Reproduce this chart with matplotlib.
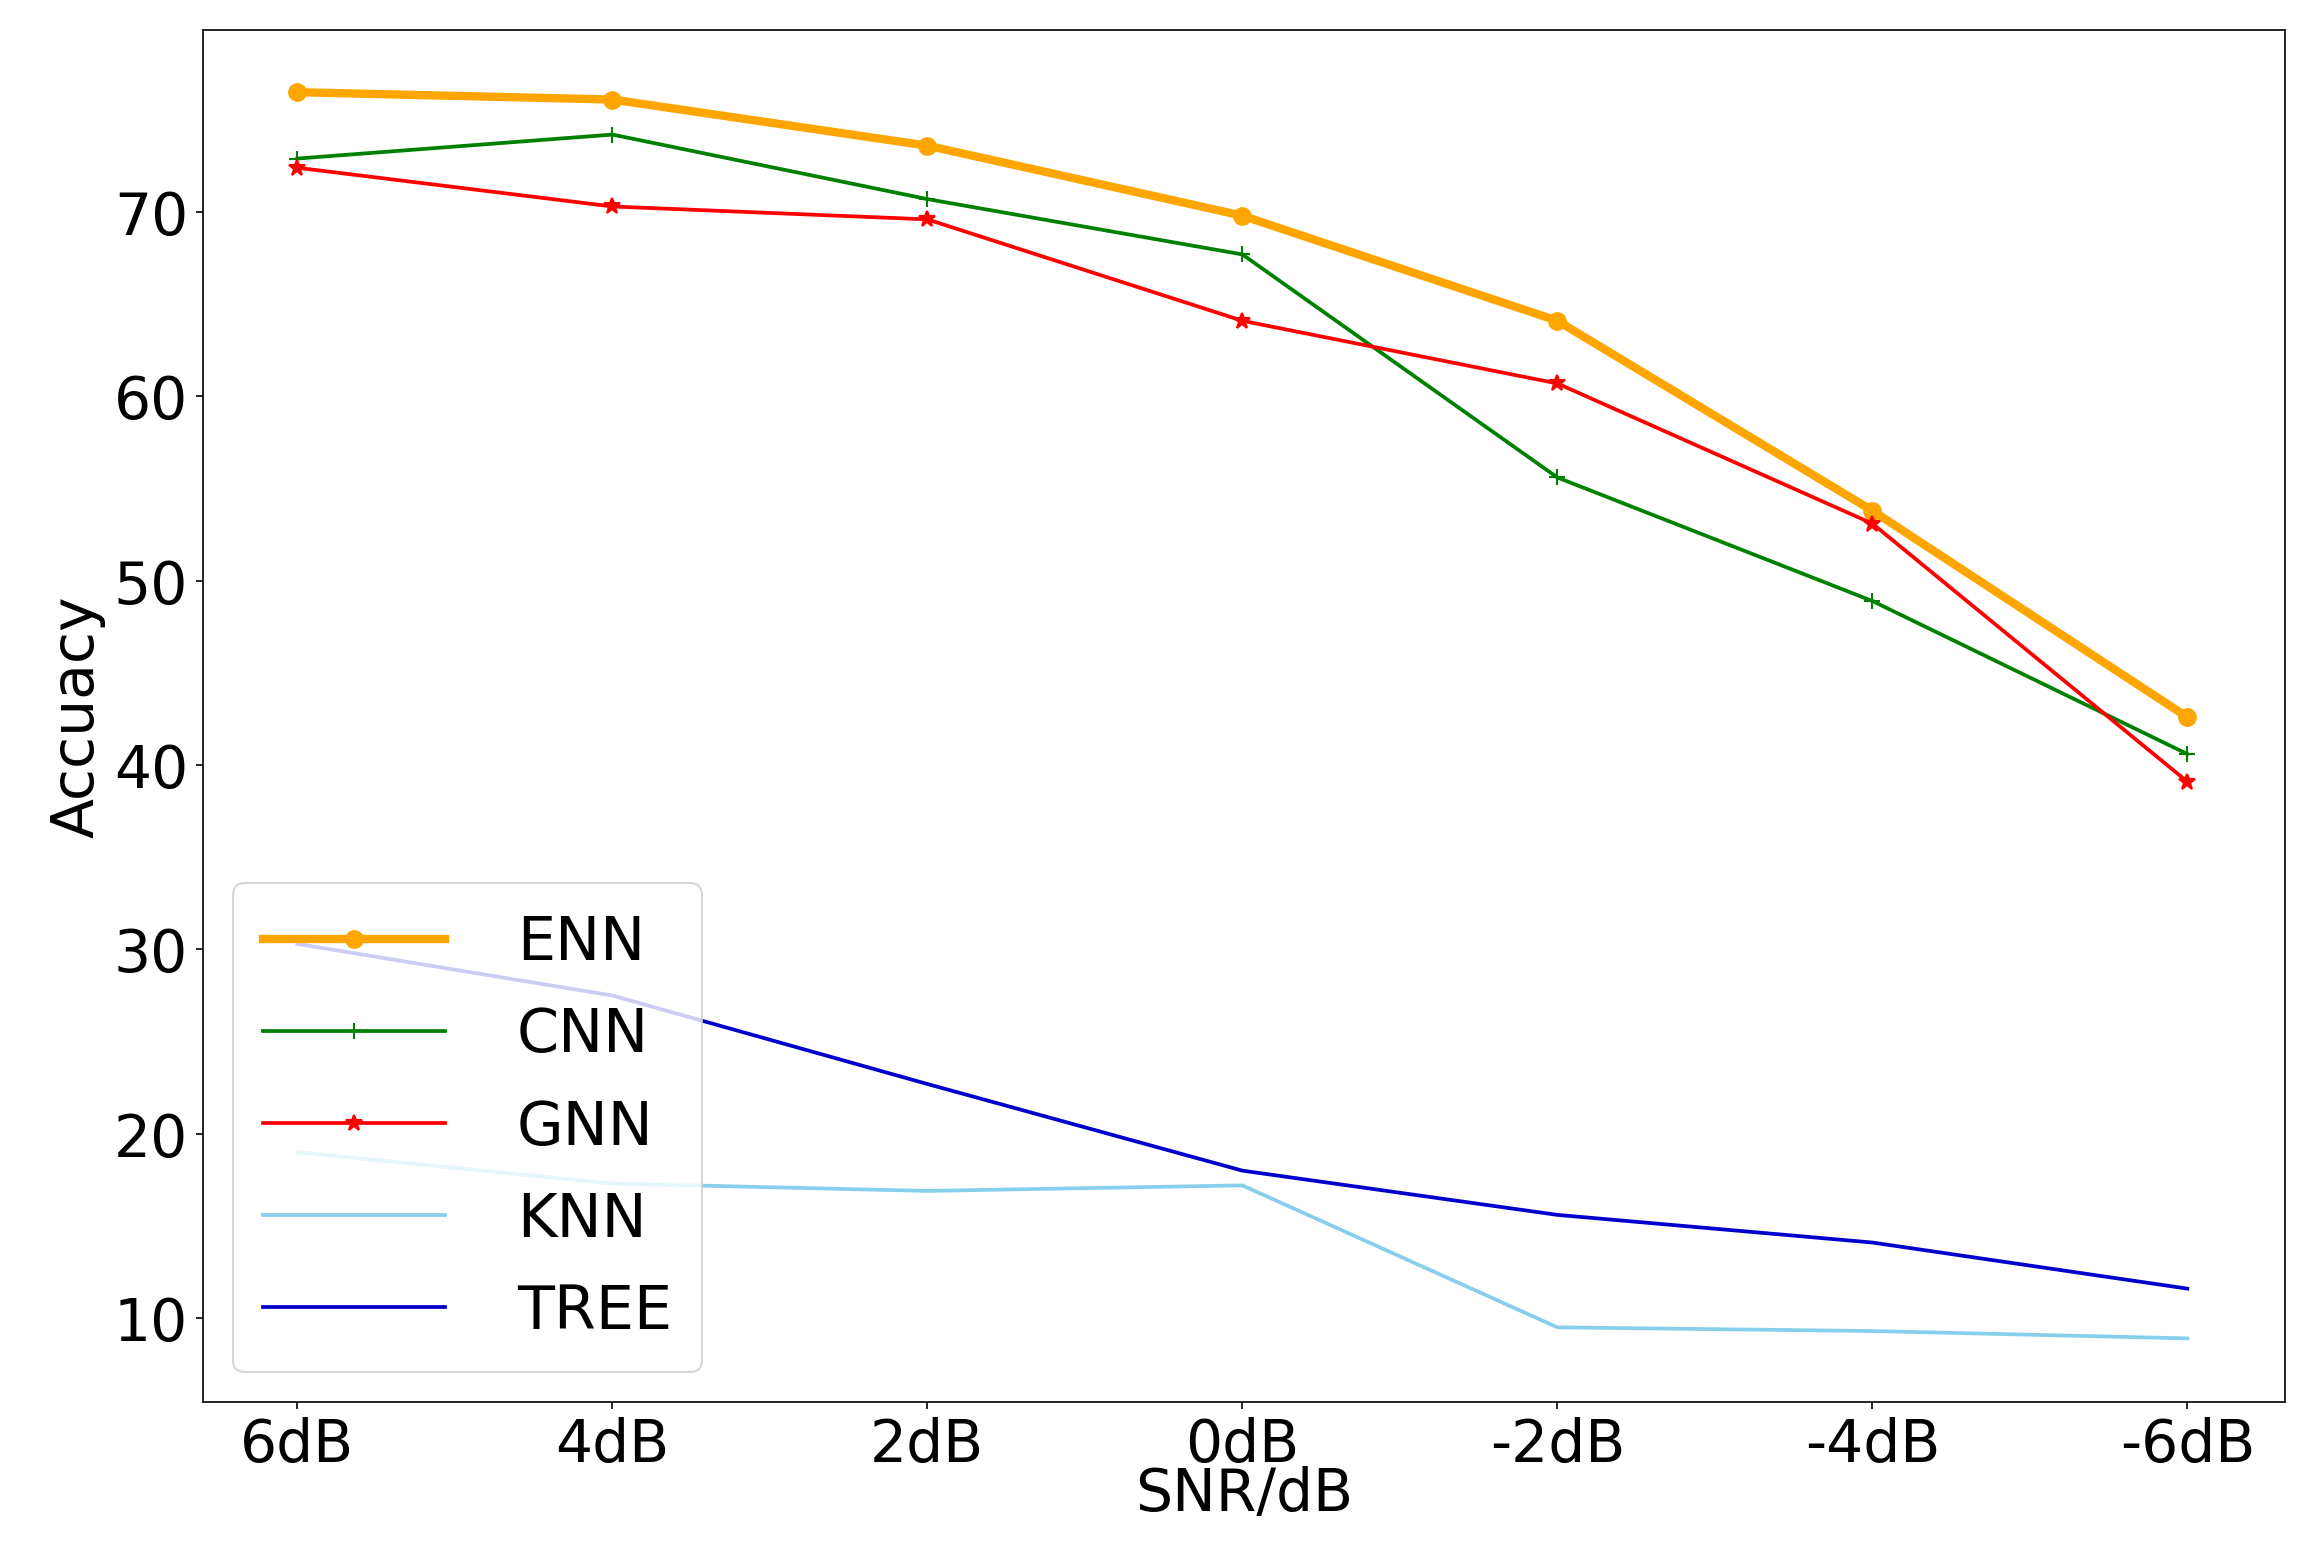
import numpy as np
import matplotlib.pyplot as plt

snr = ['6dB', '4dB', '2dB', '0dB', '-2dB', '-4dB', '-6dB']
enn = [76.5, 76.1, 73.6, 69.8, 64.1, 53.8, 42.6]
cnn = [72.9, 74.2, 70.7, 67.7, 55.6, 48.9, 40.6]
gnn = [72.4, 70.3, 69.6, 64.1, 60.7, 53.1, 39.1]
knn = [19.0, 17.3, 16.9, 17.2, 9.5, 9.3, 8.9]
tree = [30.3, 27.5, 22.7, 18.0, 15.6, 14.1, 11.6]

x = np.arange(len(snr))
fig = plt.figure(figsize=(15.48, 10.45), dpi=150)
ax = fig.add_axes([137/1568, 1-935/1045, (1543-137)/1568, (935-20)/1045])
ax.plot(x, enn, color='orange', lw=4, marker='o', ms=8, label='ENN')
ax.plot(x, cnn, color='green', lw=1.8, marker='+', ms=8, label='CNN')
ax.plot(x, gnn, color='red', lw=1.8, marker='*', ms=8, label='GNN')
ax.plot(x, knn, color='skyblue', lw=1.8, label='KNN')
ax.plot(x, tree, color='mediumblue', lw=1.8, label='TREE')
ax.set_xticks(x)
ax.set_xticklabels(snr)
ax.set_xlim(-0.3, 6.31)
ax.set_ylim(5.45, 79.9)
ax.set_yticks([10, 20, 30, 40, 50, 60, 70])
ax.tick_params(labelsize=28)
ax.set_xlabel('SNR/dB', fontsize=28, labelpad=-4)
ax.set_ylabel('Accuacy', fontsize=28, labelpad=4)
ax.legend(loc='lower left', fontsize=29, handlelength=3, borderpad=0.5,
          labelspacing=0.55, handletextpad=1.2)
fig.savefig('out.png')
